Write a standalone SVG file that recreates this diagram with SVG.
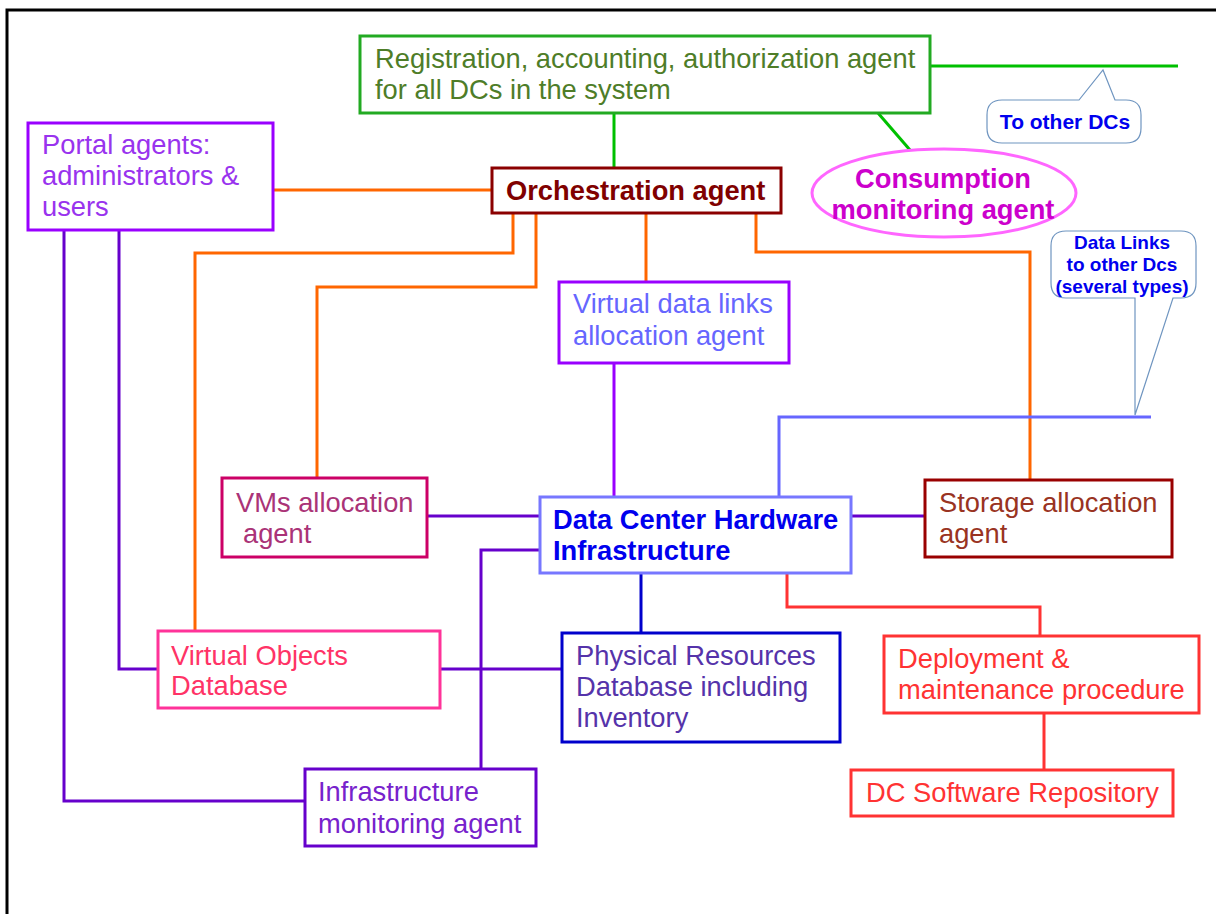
<svg xmlns="http://www.w3.org/2000/svg" width="1216" height="914" viewBox="0 0 1216 914">
<style>
text{font-family:"Liberation Sans",Arial,sans-serif;font-size:27.3px}
.b{font-weight:bold}
rect,ellipse{fill:#fff;stroke-width:3}
.c line,.c polyline{fill:none;stroke-width:3}
.o{stroke:#ff6600}.p{stroke:#6600cc}.g{stroke:#00c000}
.call{fill:#fff;stroke:#6f95c0;stroke-width:1.2}
.ct{font-weight:bold;fill:#0000ee;text-anchor:middle}
</style>
<rect x="0" y="0" width="1216" height="914" fill="#fff" stroke="none"/>
<polyline points="7,914 7,10 1216,10" fill="none" stroke="#000" stroke-width="3"/>
<g class="c" id="connectors">
<line class="g" x1="930" y1="66" x2="1178" y2="66"/>
<line class="g" x1="614" y1="113" x2="614" y2="168"/>
<line class="g" x1="878" y1="113" x2="910" y2="150"/>
<line class="o" x1="273" y1="190" x2="492" y2="190"/>
<polyline class="o" points="513,213 513,253 195,253 195,631"/>
<polyline class="o" points="536,213 536,287 317,287 317,478"/>
<line class="o" x1="646" y1="213" x2="646" y2="282"/>
<polyline class="o" points="756,213 756,252 1030,252 1030,480"/>
<line style="stroke:#9900ff" x1="614" y1="363" x2="614" y2="497"/>
<polyline style="stroke:#6666ff" points="779,497 779,417 1151,417"/>
<polyline class="p" points="64,230 64,801 305,801"/>
<polyline class="p" points="119,230 119,669 158,669"/>
<line class="p" x1="440" y1="669" x2="562" y2="669"/>
<line class="p" x1="427" y1="516" x2="540" y2="516"/>
<line class="p" x1="851" y1="516" x2="925" y2="516"/>
<polyline class="p" points="540,550 481,550 481,769"/>
<line style="stroke:#0000cc" x1="641" y1="573" x2="641" y2="633"/>
<polyline style="stroke:#ff3333" points="787,573 787,607 1040,607 1040,636"/>
<line style="stroke:#ff3333" x1="1044" y1="713" x2="1044" y2="770"/>
</g>
<g id="registration">
<rect x="360" y="36" width="570" height="77" stroke="#22aa22"/>
<text x="375" y="68" fill="#4e7d28">Registration, accounting, authorization agent</text>
<text x="375" y="99" fill="#4e7d28">for all DCs in the system</text>
</g>
<g id="to-other-dcs">
<path class="call" d="M1002,100 H1079 L1103,70 L1115,100 H1126 Q1141,100 1141,115 V128 Q1141,143 1126,143 H1002 Q987,143 987,128 V115 Q987,100 1002,100 Z"/>
<text class="ct" x="1065" y="129" style="font-size:21px">To other DCs</text>
</g>
<g id="portal">
<rect x="28" y="123" width="245" height="107" stroke="#9900ff"/>
<text x="42" y="154" fill="#9933ee">Portal agents:</text>
<text x="42" y="185" fill="#9933ee">administrators &amp;</text>
<text x="42" y="216" fill="#9933ee">users</text>
</g>
<g id="orchestration">
<rect x="492" y="168" width="289" height="45" stroke="#8b0000"/>
<text class="b" x="506" y="200" fill="#800000">Orchestration agent</text>
</g>
<g id="consumption">
<ellipse cx="944" cy="193" rx="132" ry="44" stroke="#ff66ff"/>
<text class="b" x="943" y="188" fill="#cc00cc" text-anchor="middle">Consumption</text>
<text class="b" x="943" y="219" fill="#cc00cc" text-anchor="middle">monitoring agent</text>
</g>
<g id="data-links">
<path class="call" d="M1066,231 H1181 Q1196,231 1196,246 V283 Q1196,298 1181,298 H1173 L1135,415 L1135,298 H1066 Q1051,298 1051,283 V246 Q1051,231 1066,231 Z"/>
<text class="ct" x="1122" y="249" style="font-size:19px">Data Links</text>
<text class="ct" x="1122" y="271" style="font-size:19px">to other Dcs</text>
<text class="ct" x="1122" y="293" style="font-size:19px">(several types)</text>
</g>
<g id="virtual-data-links">
<rect x="559" y="282" width="230" height="81" stroke="#9900ff"/>
<text x="573" y="313" fill="#6666ff">Virtual data links</text>
<text x="573" y="345" fill="#6666ff">allocation agent</text>
</g>
<g id="vms">
<rect x="222" y="478" width="205" height="79" stroke="#cc0066"/>
<text x="236" y="512" fill="#aa3377">VMs allocation</text>
<text x="243" y="543" fill="#aa3377">agent</text>
</g>
<g id="dc-hardware">
<rect x="540" y="497" width="311" height="76" stroke="#7777ff"/>
<text class="b" x="553" y="529" fill="#0000ee">Data Center Hardware</text>
<text class="b" x="553" y="560" fill="#0000ee">Infrastructure</text>
</g>
<g id="storage">
<rect x="925" y="480" width="247" height="77" stroke="#990000"/>
<text x="939" y="512" fill="#993322">Storage allocation</text>
<text x="939" y="543" fill="#993322">agent</text>
</g>
<g id="virtual-objects">
<rect x="158" y="631" width="282" height="77" stroke="#ff3399"/>
<text x="171" y="665" fill="#ff3366">Virtual Objects</text>
<text x="171" y="695" fill="#ff3366">Database</text>
</g>
<g id="physical-resources">
<rect x="562" y="633" width="278" height="109" stroke="#0000cc"/>
<text x="576" y="665" fill="#5533aa">Physical Resources</text>
<text x="576" y="696" fill="#5533aa">Database including</text>
<text x="576" y="727" fill="#5533aa">Inventory</text>
</g>
<g id="deployment">
<rect x="884" y="636" width="315" height="77" stroke="#ff3333"/>
<text x="898" y="668" fill="#ff3333">Deployment &amp;</text>
<text x="898" y="699" fill="#ff3333">maintenance procedure</text>
</g>
<g id="infra-monitoring">
<rect x="305" y="769" width="231" height="77" stroke="#6600cc"/>
<text x="318" y="801" fill="#7722cc">Infrastructure</text>
<text x="318" y="833" fill="#7722cc">monitoring agent</text>
</g>
<g id="sw-repo">
<rect x="851" y="770" width="322" height="46" stroke="#ff3333"/>
<text x="866" y="802" fill="#ff3333">DC Software Repository</text>
</g>
</svg>
